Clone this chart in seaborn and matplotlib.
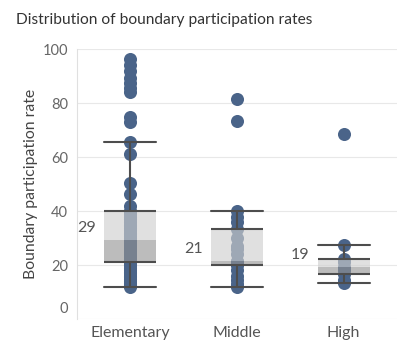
import numpy as np
import pandas as pd
import matplotlib
matplotlib.use("Agg")
import matplotlib.pyplot as plt
import matplotlib.transforms as mtransforms
import seaborn as sns

# datos
levels = ["Elementary", "Middle", "High"]

elementary = [12.0, 12.5, 13.0, 13.5, 14.0, 15.0, 15.5, 16.0, 17.0, 17.5, 18.0, 19.0, 20.0, 20.5,
              21.3, 21.8, 22.3, 23.0, 23.5, 24.0, 24.5, 25.0, 25.8, 26.5, 27.0, 27.6, 28.2, 28.7,
              29.2, 30.0, 30.8, 31.5, 32.0, 33.0, 33.6, 34.5, 35.0, 36.0, 37.0, 38.0, 38.8, 39.5,
              40.0, 42.0, 46.5, 50.5, 61.0, 65.5, 73.0, 75.0, 84.0, 85.5, 87.5, 89.5, 92.0, 94.0, 96.5]
middle = [11.9, 13.0, 14.5, 16.0, 18.0, 20.0, 20.5, 20.8, 21.0, 21.2, 21.4,
          24.0, 26.0, 27.0, 30.0, 33.4, 36.0, 38.0, 40.0, 73.5, 81.6]
high = [13.2, 14.5, 16.6, 18.0, 19.4, 21.0, 22.4, 27.4, 68.5]

yticks = [0, 20, 40, 60, 80, 100]

values = [elementary, middle, high]
df = pd.DataFrame({
    "level": np.repeat(levels, [len(v) for v in values]),
    "rate": np.concatenate(values),
})

POINT = "#4a6489"
LINE = "#4d4d4d"
GRID = "#e8e8e8"
BOX_W = 0.49

sns.set_style("whitegrid")
plt.rcParams["font.family"] = ["Lato", "DejaVu Sans"]

fig = plt.figure(figsize=(4.08, 3.52), dpi=100)
ax = fig.add_axes([77 / 408, 1 - 319 / 352, 320 / 408, 269.7 / 352])

# 1. puntos (debajo de las cajas)
sns.stripplot(data=df, x="level", y="rate", order=levels, jitter=False,
              size=9.4, color=POINT, linewidth=0, ax=ax, zorder=1)

# 2. bigotes y topes
sns.boxplot(data=df, x="level", y="rate", order=levels, width=BOX_W,
            showfliers=False, fill=False, ax=ax,
            boxprops={"visible": False}, medianprops={"visible": False},
            whiskerprops={"color": LINE, "linewidth": 1.5},
            capprops={"color": LINE, "linewidth": 1.5},
            capwidths=BOX_W)

# 3. caja en dos tonos + etiqueta de mediana
for i, vals in enumerate(values):
    q1, med, q3 = np.percentile(vals, [25, 50, 75])
    ax.bar(i, q3 - med, bottom=med, width=BOX_W, color="#cfcfcf", alpha=0.64,
           linewidth=0, zorder=2)
    ax.bar(i, med - q1, bottom=q1, width=BOX_W, color="#949494", alpha=0.62,
           linewidth=0, zorder=2)
    ax.hlines([q1, q3], i - BOX_W / 2, i + BOX_W / 2, color=LINE, lw=1.5, zorder=3)
    ax.annotate(f"{round(med)}", xy=(i - BOX_W / 2, med), xytext=(-6, 8.5),
                textcoords="offset points", ha="right", va="center",
                fontsize=11.5, color="#555555")

ax.set_ylim(0, 100)
ax.set_xlim(-0.5, 2.5)
ax.set_yticks(yticks)
ax.grid(axis="y", color=GRID, linewidth=0.8)
ax.grid(axis="x", visible=False)
sns.despine(ax=ax, bottom=True)
ax.spines["left"].set_color("#e0e0e0")
ax.spines["left"].set_linewidth(0.8)
ax.tick_params(axis="y", length=3.6, width=0.8, color=GRID, labelcolor="#666666",
               labelsize=10.5, pad=3)
ax.tick_params(axis="x", length=0, labelcolor="#555555", labelsize=11.5, pad=5)
ax.set_xlabel("")
ax.set_ylabel("Boundary participation rate", fontsize=11.3, color="#444444", labelpad=3)

# etiqueta "0" un poco hacia arriba
ytk = ax.yaxis.get_major_ticks()
lab0 = ytk[0].label1
lab0.set_transform(lab0.get_transform() +
                   mtransforms.ScaledTranslation(0, 8 / 72, fig.dpi_scale_trans))

fig.text(16 / 408, 1 - 20 / 352, "Distribution of boundary participation rates",
         ha="left", va="center", fontsize=11.2, color="#333333")

fig.savefig("out.png", dpi=100)
